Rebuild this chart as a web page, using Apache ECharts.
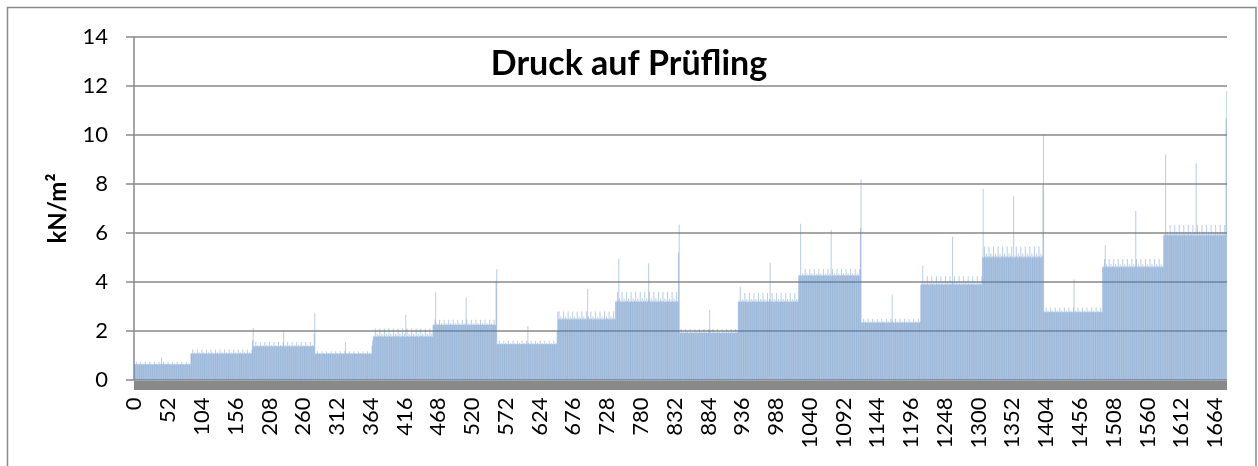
<!DOCTYPE html>
<html>
<head>
<meta charset="utf-8">
<script src="https://cdn.jsdelivr.net/npm/echarts@6/dist/echarts.min.js"></script>
<style>
  html, body { margin: 0; padding: 0; background: #fff; }
  #chart { width: 1258px; height: 466px; }
</style>
</head>
<body>
<div id="chart"></div>
<script>
const sampleCount = 1683;

// load steps: first / last sample, base level, upper level of the ripple
const stepStart = [0, 87, 184, 279, 368, 460, 559, 651, 741, 839, 930, 1023, 1120, 1211, 1306, 1401, 1491, 1585];
const stepEnd   = [86, 183, 278, 367, 459, 558, 650, 740, 838, 929, 1022, 1119, 1210, 1305, 1400, 1490, 1584, 1682];
const stepBase  = [0.63, 1.07, 1.37, 1.07, 1.77, 2.25, 1.46, 2.47, 3.18, 1.92, 3.18, 4.26, 2.34, 3.89, 5.0, 2.77, 4.6, 5.9];
const stepTop   = [0.75, 1.25, 1.55, 1.17, 2.1, 2.46, 1.6, 2.8, 3.6, 2.08, 3.55, 4.53, 2.5, 4.23, 5.45, 2.96, 4.94, 6.33];

// small oscillation seen inside every step (share of base -> top)
const ripple = [0, 0.15, 0, 1, 0.1, 0, 0.35];

// single peaks
const spikeAt    = [42, 182, 183, 230, 277, 278, 325, 366, 367, 418, 464, 511, 557, 558, 606, 651, 652, 698,
                    746, 792, 838, 839, 886, 933, 979, 1026, 1073, 1118, 1119, 1167, 1214, 1260, 1307, 1354,
                    1399, 1400, 1447, 1495, 1542, 1588, 1635, 1681, 1682];
const spikeValue = [0.92, 1.6, 2.13, 2.02, 1.9, 2.75, 1.55, 1.4, 1.6, 2.65, 3.58, 3.37, 4.05, 4.52, 2.2, 2.0, 2.8, 3.71,
                    4.96, 4.77, 5.2, 6.35, 2.86, 3.81, 4.8, 6.38, 6.12, 6.2, 8.18, 3.49, 4.66, 5.85, 7.8, 7.5,
                    8.0, 10.0, 4.1, 5.5, 6.9, 9.2, 8.85, 10.67, 11.8];

const samples = Array.from({ length: sampleCount }, (_, i) => String(i));

const pressure = new Array(sampleCount).fill(0);
stepStart.forEach((s, k) => {
  for (let i = s; i <= stepEnd[k]; i++) {
    const r = ripple[(i - s) % ripple.length];
    pressure[i] = +(stepBase[k] + (stepTop[k] - stepBase[k]) * r).toFixed(2);
  }
});
spikeAt.forEach((i, k) => { pressure[i] = spikeValue[k]; });

const chart = echarts.init(document.getElementById('chart'));
const gray = '#898989';
const font = 'Lato, "Open Sans", sans-serif';

chart.setOption({
  animation: false,
  backgroundColor: '#fff',
  title: {
    text: 'Druck auf Prüfling',
    left: 'center',
    top: 42,
    textStyle: { fontFamily: font, fontWeight: 'bold', fontSize: 34, color: '#000' }
  },
  graphic: [{
    type: 'rect',
    shape: { x: 7.5, y: 7.5, width: 1248.5, height: 470 },
    style: { fill: null, stroke: gray, lineWidth: 1.5 },
    silent: true
  }],
  grid: { left: 134, right: 31, top: 37, bottom: 86 },
  xAxis: {
    type: 'category',
    data: samples,
    offset: 5.5,
    axisLine: { onZero: false, lineStyle: { color: gray, width: 9, cap: 'butt' } },
    axisTick: { show: false },
    axisLabel: {
      interval: 51,
      rotate: 90,
      margin: 12,
      color: '#000',
      fontFamily: font,
      fontSize: 22
    }
  },
  yAxis: {
    type: 'value',
    min: 0,
    max: 14,
    interval: 2,
    name: 'kN/m²',
    nameLocation: 'middle',
    nameRotate: 90,
    nameGap: 64,
    nameTextStyle: { fontFamily: font, fontWeight: 'bold', fontSize: 24, color: '#000' },
    axisLine: { show: true, lineStyle: { color: gray, width: 1.5 } },
    axisTick: { show: true, length: 8, lineStyle: { color: gray, width: 1.5 } },
    axisLabel: { margin: 26, color: '#000', fontFamily: font, fontSize: 22 },
    splitLine: { lineStyle: { color: gray, width: 1.5 } }
  },
  series: [{
    type: 'bar',
    data: pressure,
    barWidth: 0.3,
    barMinWidth: 0,
    itemStyle: { color: 'rgba(79, 129, 189, 0.4)' }
  }]
});
</script>
</body>
</html>
